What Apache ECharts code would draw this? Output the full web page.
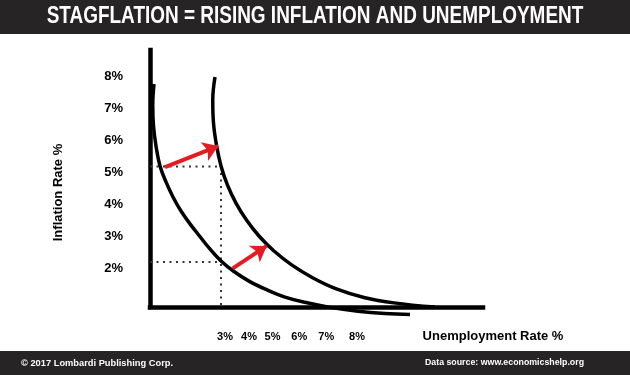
<!DOCTYPE html>
<html><head><meta charset="utf-8">
<script src="https://cdn.jsdelivr.net/npm/echarts@6/dist/echarts.min.js"></script>
<style>html,body{margin:0;padding:0;background:#fff}#c{width:630px;height:375px}</style>
</head><body><div id="c"></div>
<script>
// ---- text ----
const titleText = 'STAGFLATION = RISING INFLATION AND UNEMPLOYMENT';
const footerLeft = '\u00A9 2017 Lombardi Publishing Corp.';
const footerRight = 'Data source: www.economicshelp.org';
const yAxisName = 'Inflation Rate %';
const xAxisName = 'Unemployment Rate %';

// ---- ticks ----
const yTickValues = [2, 3, 4, 5, 6, 7, 8];
const yTickLabels = ['2%', '3%', '4%', '5%', '6%', '7%', '8%'];
const xTickValues = [3.0, 3.96, 4.9, 5.97, 7.05, 8.28];
const xTickLabels = ['3%', '4%', '5%', '6%', '7%', '8%'];

// ---- curves [unemployment, inflation] ----
const curveOriginal = [[0.16, 7.75], [0.11, 7.09], [0.14, 6.44], [0.24, 5.81], [0.4, 5.19], [0.64, 4.69], [0.92, 4.22], [1.24, 3.78], [1.6, 3.38], [1.98, 3.0], [2.38, 2.61], [2.84, 2.22], [3.36, 1.89], [3.96, 1.59], [4.64, 1.33], [5.4, 1.09], [6.24, 0.92], [7.2, 0.77], [8.32, 0.65], [9.4, 0.58], [10.4, 0.55]];
const curveShifted = [[2.6, 7.97], [2.51, 7.25], [2.54, 6.53], [2.66, 5.84], [2.84, 5.19], [3.1, 4.59], [3.44, 4.03], [3.86, 3.5], [4.36, 3.0], [4.96, 2.53], [5.68, 2.09], [6.52, 1.69], [7.48, 1.34], [8.56, 1.08], [9.76, 0.91], [11.4, 0.78]];

// ---- guide lines ----
const dottedHigh = [[0, 5.17], [2.84, 5.17]];
const dottedLow = [[0, 2.19], [2.84, 2.19]];
const dottedVert = [[2.84, 5.17], [2.84, 0.78]];

// ---- shift arrows ----
const arrowUpper = [[0.6, 5.15], [2.73, 5.81]];
const arrowLower = [[3.31, 1.99], [4.67, 2.69]];

const FONT = '"Liberation Sans", Arial, Helvetica, sans-serif';
const BAR = '#272425';

const chart = echarts.init(document.getElementById('c'), null, {renderer: 'canvas'});

function nearestLabel(vals, labels, v) {
  let best = 0;
  for (let i = 1; i < vals.length; i++) if (Math.abs(vals[i] - v) < Math.abs(vals[best] - v)) best = i;
  return labels[best];
}

const dotStyle = {color: '#333', width: 2, type: [2, 4.5]};

chart.setOption({
  animation: false,
  backgroundColor: '#fff',
  grid: {left: 150, top: 50, right: 147, bottom: 68},
  xAxis: {
    type: 'value', min: 0, max: 13.32,
    axisLine: {show: true, lineStyle: {color: '#000', width: 4.5, cap: 'square'}},
    axisTick: {show: false},
    splitLine: {show: false},
    axisLabel: {
      customValues: xTickValues, margin: 24,
      formatter: v => nearestLabel(xTickValues, xTickLabels, v),
      color: '#000', fontWeight: 'bold', fontSize: 11, fontFamily: FONT
    }
  },
  yAxis: {
    type: 'value', min: 0.78125, max: 8.8125,
    axisLine: {show: true, lineStyle: {color: '#000', width: 4.5, cap: 'square'}},
    axisTick: {show: false},
    splitLine: {show: false},
    axisLabel: {
      customValues: yTickValues, margin: 27,
      formatter: v => nearestLabel(yTickValues, yTickLabels, v),
      color: '#000', fontWeight: 'bold', fontSize: 13, fontFamily: FONT
    }
  },
  graphic: [
    {type: 'rect', left: 0, top: 0, shape: {width: 630, height: 34}, style: {fill: BAR}, z: 0},
    {type: 'rect', left: 0, top: 351, shape: {width: 630, height: 24}, style: {fill: BAR}, z: 0},
    {type: 'text', x: 315, y: 16.5, scaleX: 0.79, z: 10, style: {text: titleText, fill: '#fff', font: 'bold 24px ' + FONT, textAlign: 'center', textVerticalAlign: 'middle'}},
    {type: 'text', x: 21, y: 363, z: 10, style: {text: footerLeft, fill: '#fff', font: 'bold 9.3px ' + FONT, textAlign: 'left', textVerticalAlign: 'middle'}},
    {type: 'text', x: 584, y: 363, z: 10, style: {text: footerRight, fill: '#fff', font: 'bold 8.8px ' + FONT, textAlign: 'right', textVerticalAlign: 'middle'}},
    {type: 'text', x: 493, y: 336, z: 10, style: {text: xAxisName, fill: '#000', font: 'bold 13px ' + FONT, textAlign: 'center', textVerticalAlign: 'middle'}},
    {type: 'text', x: 58, y: 192.5, rotation: Math.PI / 2, z: 10, style: {text: yAxisName, fill: '#000', font: 'bold 13px ' + FONT, textAlign: 'center', textVerticalAlign: 'middle'}}
  ],
  series: [
    {type: 'line', data: dottedHigh, symbol: 'none', lineStyle: dotStyle, z: 1, silent: true},
    {type: 'line', data: dottedLow, symbol: 'none', lineStyle: dotStyle, z: 1, silent: true},
    {type: 'line', data: dottedVert, symbol: 'none', lineStyle: dotStyle, z: 1, silent: true},
    {type: 'line', data: curveOriginal, smooth: 0.4, symbol: 'none', clip: false, lineStyle: {color: '#000', width: 3.5}, z: 3},
    {type: 'line', data: curveShifted, smooth: 0.4, symbol: 'none', clip: false, lineStyle: {color: '#000', width: 3.5}, z: 3},
    {type: 'lines', coordinateSystem: 'cartesian2d', z: 4,
     symbol: ['none', 'arrow'], symbolSize: [13, 15],
     lineStyle: {color: '#e31b23', width: 4, opacity: 1},
     data: [{coords: arrowUpper}, {coords: arrowLower}]}
  ]
});
</script></body></html>
